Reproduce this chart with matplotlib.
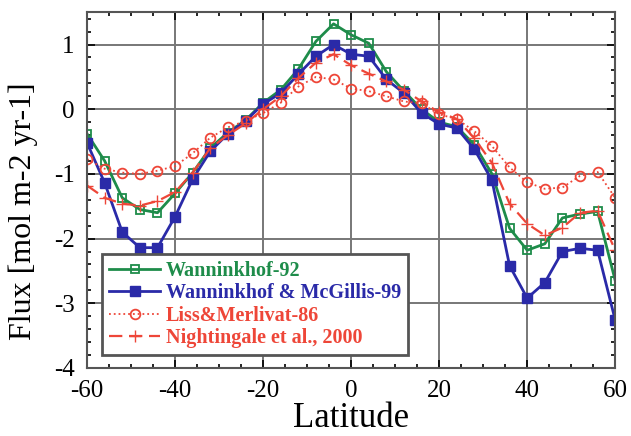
import matplotlib
matplotlib.use("Agg")
import matplotlib.pyplot as plt
import numpy as np
from matplotlib.ticker import MultipleLocator

lat = np.arange(-60, 61, 4)

wann92 = [-0.38, -0.8, -1.37, -1.55, -1.6, -1.3, -0.98, -0.6, -0.36, -0.17, 0.1, 0.3,
          0.62, 1.05, 1.32, 1.15, 1.02, 0.58, 0.28, 0.0, -0.2, -0.27, -0.55, -1.0,
          -1.84, -2.18, -2.08, -1.68, -1.62, -1.58, -2.65]
wm99 = [-0.52, -1.14, -1.9, -2.14, -2.14, -1.66, -1.08, -0.65, -0.38, -0.18, 0.08, 0.25,
        0.54, 0.82, 1.0, 0.85, 0.82, 0.46, 0.25, -0.06, -0.23, -0.29, -0.62, -1.1,
        -2.42, -2.92, -2.68, -2.2, -2.15, -2.18, -3.26]
liss86 = [-0.77, -0.92, -0.98, -1.0, -0.95, -0.88, -0.68, -0.44, -0.28, -0.18, -0.06, 0.1,
          0.35, 0.5, 0.46, 0.32, 0.28, 0.2, 0.12, 0.09, -0.08, -0.15, -0.34, -0.57,
          -0.9, -1.13, -1.23, -1.21, -1.03, -0.97, -1.37]
night00 = [-1.18, -1.37, -1.46, -1.49, -1.42, -1.28, -0.98, -0.6, -0.4, -0.22, 0.0, 0.2,
           0.48, 0.72, 0.85, 0.68, 0.55, 0.43, 0.3, 0.12, -0.05, -0.15, -0.45, -0.83,
           -1.46, -1.77, -1.95, -1.83, -1.6, -1.57, -2.18]

labels = ["Wanninkhof-92", "Wanninkhof & McGillis-99", "Liss&Merlivat-86", "Nightingale et al., 2000"]
green = "#1e8c4a"
blue = "#2a2aa8"
red = "#ee4638"

plt.rcParams['font.family'] = ['Liberation Serif', 'DejaVu Serif']
plt.rcParams['axes.unicode_minus'] = False

fig = plt.figure(figsize=(6.31, 4.36), dpi=100)
ax = fig.add_axes([0.138, 0.156, 0.837, 0.816])

ax.plot(lat, wann92, '-s', color=green, lw=2, ms=6, mfc='none', mew=1.3, label=labels[0])
ax.plot(lat, wm99, '-s', color=blue, lw=2, ms=7, label=labels[1])
ax.plot(lat, liss86, ':o', color=red, lw=1.3, ms=7, mfc='none', mew=1.3, label=labels[2])
ax.plot(lat, night00, '--+', color=red, lw=1.6, ms=8, dashes=(6, 3), label=labels[3])

ax.set_xlim(-60, 60)
ax.set_ylim(-4, 1.5)
ax.xaxis.set_major_locator(MultipleLocator(20))
ax.xaxis.set_minor_locator(MultipleLocator(5))
ax.yaxis.set_major_locator(MultipleLocator(1))
ax.yaxis.set_minor_locator(MultipleLocator(0.2))
ax.grid(True, which='major', color='#777777', lw=1.4)
ax.tick_params(which='both', direction='in', top=True, right=True, labelsize=18, width=1.2)
ax.tick_params(which='major', length=6)
ax.tick_params(which='minor', length=3)
ax.tick_params(axis='y', pad=9)
ax.tick_params(axis='x', pad=9)
for s in ax.spines.values():
    s.set_color('#555555')
    s.set_linewidth(1.5)

ax.set_xlabel("Latitude", fontsize=25, labelpad=0)
ax.set_ylabel("Flux [mol m-2 yr-1]", fontsize=23)
ax.yaxis.set_label_coords(-0.092, 0.44)

leg = ax.legend(loc='lower left', bbox_to_anchor=(0.01, 0.008), fancybox=False,
                framealpha=1, edgecolor='#555555', handlelength=2.5,
                handletextpad=0.3, prop={'weight': 'bold', 'size': 14.5},
                borderpad=0.35, labelspacing=0.12)
leg.get_frame().set_linewidth(2)
for t, c in zip(leg.get_texts(), [green, blue, red, red]):
    t.set_color(c)

fig.savefig("out.png", dpi=100)
